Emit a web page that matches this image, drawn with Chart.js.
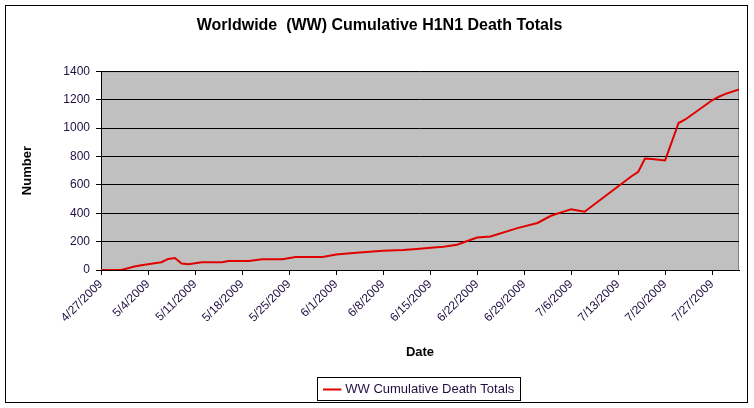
<!DOCTYPE html>
<html>
<head>
<meta charset="utf-8">
<script src="https://cdn.jsdelivr.net/npm/chart.js@4"></script>
<style>
  body { margin: 0; background: #fff; }
  #wrap { width: 754px; height: 408px; position: relative; }
</style>
</head>
<body>
<div id="wrap"><canvas id="myChart" width="754" height="408"></canvas></div>
<script>
// reporting dates and cumulative deaths
const dates = ["4/27/2009", "4/30/2009", "5/1/2009", "5/2/2009", "5/3/2009", "5/4/2009",
  "5/6/2009", "5/7/2009", "5/8/2009", "5/9/2009", "5/10/2009", "5/12/2009", "5/15/2009",
  "5/16/2009", "5/19/2009", "5/21/2009", "5/24/2009", "5/26/2009", "5/30/2009", "6/1/2009",
  "6/4/2009", "6/8/2009", "6/11/2009", "6/13/2009", "6/16/2009", "6/17/2009", "6/19/2009",
  "6/22/2009", "6/24/2009", "6/28/2009", "7/1/2009", "7/3/2009", "7/5/2009", "7/6/2009",
  "7/8/2009", "7/15/2009", "7/16/2009", "7/17/2009", "7/18/2009", "7/20/2009", "7/22/2009",
  "7/23/2009", "7/27/2009", "7/28/2009", "7/29/2009", "7/31/2009"];
const deaths = [0, 0, 12, 24, 33, 40,
  55, 78, 84, 45, 40, 54, 54,
  64, 64, 75, 75, 91, 91, 109,
  121, 135, 141, 148, 160, 164, 178,
  229, 236, 295, 331, 382, 413, 427,
  410, 660, 692, 785, 782, 772, 1035,
  1060, 1195, 1220, 1240, 1272];
const weekLabels = ["4/27/2009", "5/4/2009", "5/11/2009", "5/18/2009", "5/25/2009", "6/1/2009",
  "6/8/2009", "6/15/2009", "6/22/2009", "6/29/2009", "7/6/2009", "7/13/2009", "7/20/2009", "7/27/2009"];
const yTicks = [0, 200, 400, 600, 800, 1000, 1200, 1400];

const seriesName = "WW Cumulative Death Totals";
const textColor = "#201040";
const fontName = "Liberation Sans, Arial";

function dayNo(s) {
  var p = s.split("/");
  return (Date.UTC(+p[2], +p[0] - 1, +p[1]) - Date.UTC(2009, 3, 27)) / 86400000;
}
const points = dates.map(function (d, i) { return {x: dayNo(d), y: deaths[i]}; });
const lastDay = dayNo(dates[dates.length - 1]);

// grey plot area, outer frame and box round the legend
const decor = {
  id: "decor",
  beforeDraw: function (chart) {
    var c = chart.ctx, a = chart.chartArea;
    c.save();
    c.fillStyle = "#fff";
    c.fillRect(0, 0, chart.width, chart.height);
    c.fillStyle = "#c0c0c0";
    c.fillRect(a.left, a.top, a.right - a.left, a.bottom - a.top);
    c.strokeStyle = "#808080";
    c.lineWidth = 1;
    c.beginPath();
    c.moveTo(a.left, a.top + 0.5);
    c.lineTo(a.right - 0.5, a.top + 0.5);
    c.lineTo(a.right - 0.5, a.bottom);
    c.stroke();
    c.restore();
  },
  afterDraw: function (chart) {
    var c = chart.ctx;
    c.save();
    c.strokeStyle = "#000";
    c.lineWidth = 1;
    c.strokeRect(5.5, 5.5, 742, 397);
    var hb = chart.legend.legendHitBoxes[0];
    if (hb) {
      c.strokeRect(Math.round(hb.left) - 8.5, Math.round(hb.top) - 5.5,
        Math.round(hb.width) + 14, Math.round(hb.height) + 10);
    }
    c.restore();
  }
};

new Chart("myChart", {
  type: "line",
  data: {
    datasets: [{
      label: seriesName,
      data: points,
      borderColor: "#e00000",
      backgroundColor: "#e00000",
      borderWidth: 2,
      pointRadius: 0,
      tension: 0,
      fill: false
    }]
  },
  options: {
    responsive: false,
    animation: false,
    layout: {padding: {left: 20, right: 15, top: 5, bottom: 2}},
    plugins: {
      title: {
        display: true,
        text: "Worldwide  (WW) Cumulative H1N1 Death Totals",
        color: "#000",
        font: {family: fontName, size: 16, weight: "bold"},
        padding: {top: 11, bottom: 36}
      },
      legend: {
        position: "bottom",
        fullSize: false,
        labels: {
          color: textColor,
          font: {family: fontName, size: 13},
          usePointStyle: true,
          pointStyle: "line",
          boxWidth: 25,
          padding: 10
        }
      },
      tooltip: {enabled: false}
    },
    scales: {
      x: {
        type: "linear",
        min: 0,
        max: lastDay,
        afterFit: function (s) { s.height = 103; },
        afterBuildTicks: function (s) {
          s.ticks = weekLabels.map(function (l) { return {value: dayNo(l)}; });
        },
        ticks: {
          color: textColor,
          font: {family: fontName, size: 12},
          minRotation: 45,
          maxRotation: 45,
          autoSkip: false,
          padding: 2,
          callback: function (v) { return weekLabels[Math.round(v / 7)]; }
        },
        grid: {drawOnChartArea: false, drawTicks: true, tickLength: 5, color: "#000"},
        border: {color: "#000"},
        title: {
          display: true,
          text: "Date",
          color: "#000",
          font: {family: fontName, size: 13, weight: "bold"},
          padding: {top: 0, bottom: 13}
        }
      },
      y: {
        min: 0,
        max: 1400,
        afterFit: function (s) { s.width = 81; },
        afterBuildTicks: function (s) {
          s.ticks = yTicks.map(function (v) { return {value: v}; });
        },
        ticks: {
          color: textColor,
          font: {family: fontName, size: 12},
          padding: 6,
          callback: function (v) { return String(v); }
        },
        grid: {color: "#000", tickLength: 5},
        border: {color: "#000"},
        title: {
          display: true,
          text: "Number",
          color: "#000",
          font: {family: fontName, size: 13, weight: "bold"},
          padding: 0
        }
      }
    }
  },
  plugins: [decor]
});
</script>
</body>
</html>
